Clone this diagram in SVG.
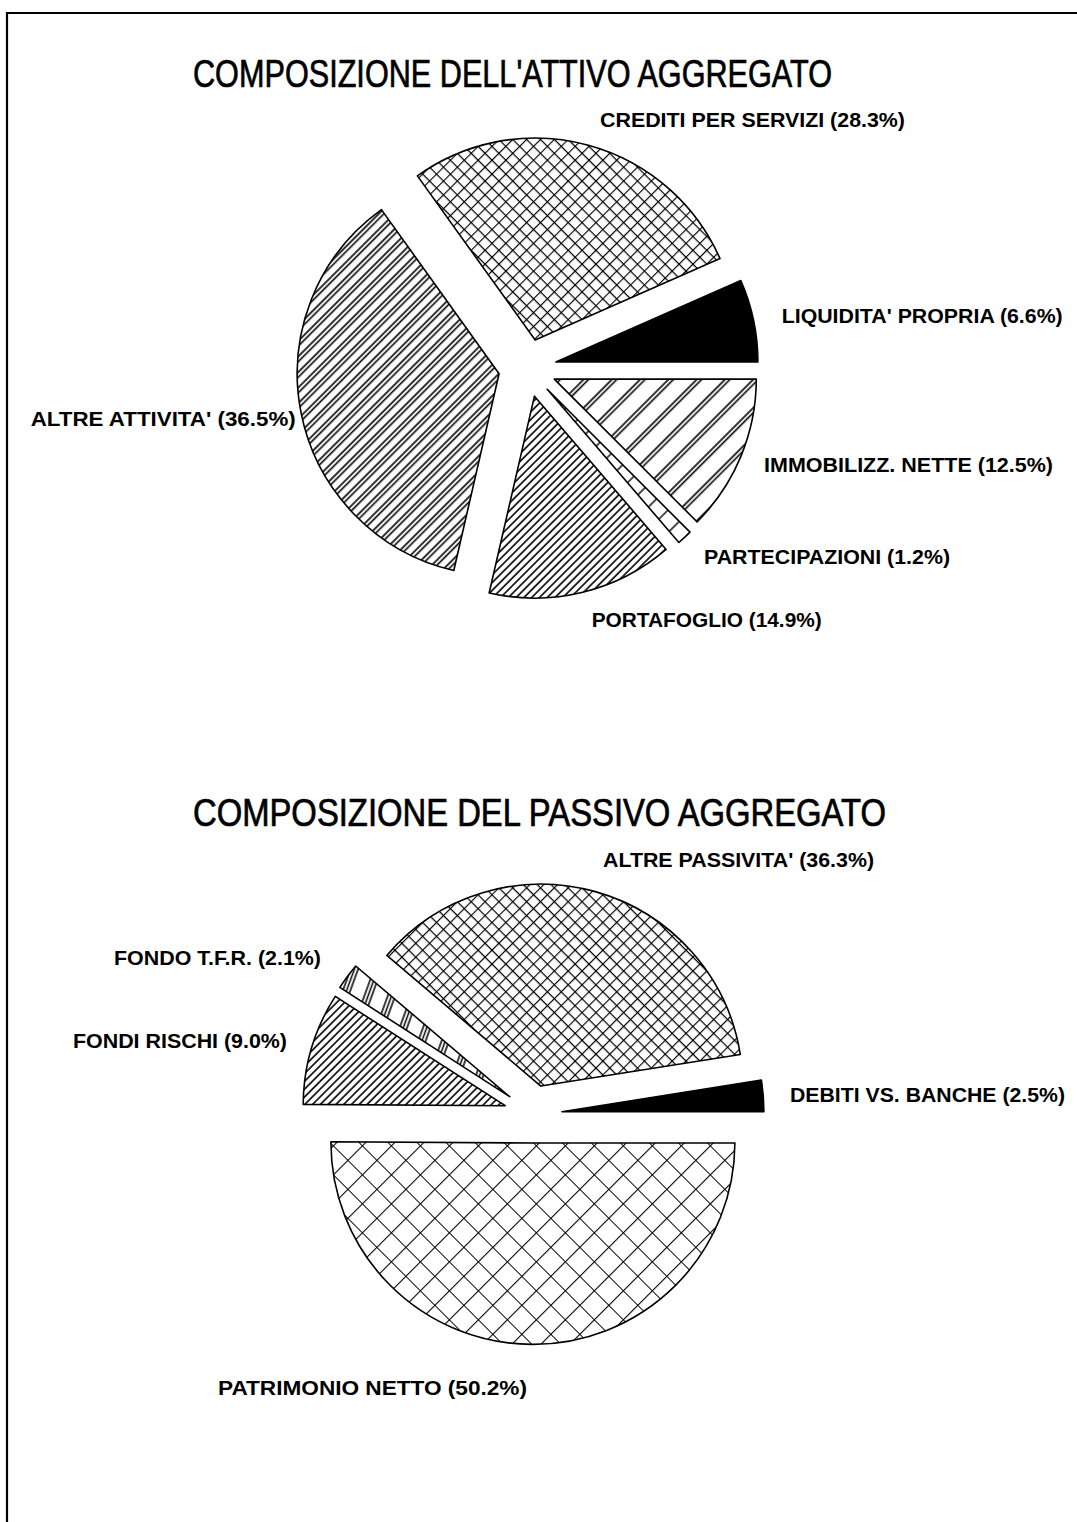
<svg xmlns="http://www.w3.org/2000/svg" width="1077" height="1522" viewBox="0 0 1077 1522">
<style>
.title{font-family:"Liberation Sans",Arial,sans-serif;font-size:38px;fill:#000;stroke:#000;stroke-width:0.7}
.lbl{font-family:"Liberation Sans",Arial,sans-serif;font-size:20px;font-weight:bold;fill:#000}
.sl{stroke:#000;stroke-width:1.6;stroke-linejoin:round}
.frame{stroke:#000;stroke-width:2.2;fill:none}
</style>
<defs>
<pattern id="crossFine" patternUnits="userSpaceOnUse" width="9.8" height="9.8" patternTransform="rotate(45)">
<rect width="9.8" height="9.8" fill="#fff"/>
<path d="M0,0H9.8M0,0V9.8" stroke="#000" stroke-width="2.3"/>
</pattern>
<pattern id="crossLarge" patternUnits="userSpaceOnUse" width="20.5" height="20.5" patternTransform="rotate(45)">
<rect width="20.5" height="20.5" fill="#fff"/>
<path d="M0,0H20.5M0,0V20.5" stroke="#000" stroke-width="2.1"/>
</pattern>
<pattern id="diagDense" patternUnits="userSpaceOnUse" width="5.5" height="10" patternTransform="rotate(45)">
<rect width="5.5" height="10" fill="#fff"/>
<path d="M1,0V10" stroke="#000" stroke-width="1.6"/>
</pattern>
<pattern id="diagPair" patternUnits="userSpaceOnUse" width="11" height="10" patternTransform="rotate(45)">
<rect width="11" height="10" fill="#fff"/>
<path d="M1,0V10M4.6,0V10" stroke="#000" stroke-width="1.6"/>
</pattern>
<pattern id="diagWide" patternUnits="userSpaceOnUse" width="20" height="10" patternTransform="rotate(45)">
<rect width="20" height="10" fill="#fff"/>
<path d="M1,0V10M4.5,0V10" stroke="#000" stroke-width="1.6"/>
</pattern>
<pattern id="diagSparse" patternUnits="userSpaceOnUse" width="16" height="10" patternTransform="rotate(45)">
<rect width="16" height="10" fill="#fff"/>
<path d="M1,0V10" stroke="#000" stroke-width="1.4"/>
</pattern>
<pattern id="tfr" patternUnits="userSpaceOnUse" width="22" height="10" patternTransform="rotate(20)">
<rect width="22" height="10" fill="#fff"/>
<path d="M1,0V10M4.5,0V10M8,0V10" stroke="#000" stroke-width="1.5"/>
</pattern>
</defs>
<rect width="1077" height="1522" fill="#fff"/>
<path class="frame" d="M7,1522V13H1077"/>

<g id="attivo">
<text class="title" x="193" y="87" textLength="639" lengthAdjust="spacingAndGlyphs">COMPOSIZIONE DELL'ATTIVO AGGREGATO</text>
<g id="liquidita">
<path class="sl" fill="#000" d="M555.9,362 L757.9,362 A202,202 0 0 0 740.8,280.6 Z"/>
<text class="lbl" x="781.7" y="322.7" textLength="281" lengthAdjust="spacingAndGlyphs">LIQUIDITA' PROPRIA (6.6%)</text>
</g>
<g id="crediti">
<path class="sl" fill="url(#crossFine)" d="M535.15,340.03 L720,258.6 A202,202 0 0 0 417.4,175.9 Z"/>
<text class="lbl" x="600" y="127" textLength="305" lengthAdjust="spacingAndGlyphs">CREDITI PER SERVIZI (28.3%)</text>
</g>
<g id="altre-attivita">
<path class="sl" fill="url(#diagPair)" d="M499.07,373.7 L381.4,209.6 A202,202 0 0 0 453.8,570.5 Z"/>
<text class="lbl" x="30.7" y="426" textLength="265" lengthAdjust="spacingAndGlyphs">ALTRE ATTIVITA' (36.5%)</text>
</g>
<g id="portafoglio">
<path class="sl" fill="url(#diagDense)" d="M534.45,396.16 L489.15,592.96 A202,202 0 0 0 666.1,549.4 Z"/>
<text class="lbl" x="591.7" y="626.7" textLength="230" lengthAdjust="spacingAndGlyphs">PORTAFOGLIO (14.9%)</text>
</g>
<g id="partecipazioni">
<path class="sl" fill="url(#diagSparse)" d="M547.2,389.3 L678.9,542.5 A202,202 0 0 0 690,532.1 Z"/>
<text class="lbl" x="704" y="564" textLength="246" lengthAdjust="spacingAndGlyphs">PARTECIPAZIONI (1.2%)</text>
</g>
<g id="immobilizz">
<path class="sl" fill="url(#diagWide)" d="M554.3,379.1 L697.1,521.9 A202,202 0 0 0 756.3,379.1 Z"/>
<text class="lbl" x="764" y="471.7" textLength="289" lengthAdjust="spacingAndGlyphs">IMMOBILIZZ. NETTE (12.5%)</text>
</g>
</g>

<g id="passivo">
<text class="title" x="193" y="826" textLength="693" lengthAdjust="spacingAndGlyphs">COMPOSIZIONE DEL PASSIVO AGGREGATO</text>
<g id="debiti">
<path class="sl" fill="#000" d="M561.9,1111.7 L763.9,1111.7 A202,202 0 0 0 761.4,1080.1 Z"/>
<text class="lbl" x="790" y="1101.7" textLength="275" lengthAdjust="spacingAndGlyphs">DEBITI VS. BANCHE (2.5%)</text>
</g>
<g id="altre-passivita">
<path class="sl" fill="url(#crossFine)" d="M540.83,1086.08 L740.3,1054.5 A202,202 0 0 0 386.8,955.4 Z"/>
<text class="lbl" x="603" y="867" textLength="271" lengthAdjust="spacingAndGlyphs">ALTRE PASSIVITA' (36.3%)</text>
</g>
<g id="fondo-tfr">
<path class="sl" fill="url(#tfr)" d="M509.7,1096.7 L355.7,966 A202,202 0 0 0 339.8,987.4 Z"/>
<text class="lbl" x="114" y="965" textLength="207" lengthAdjust="spacingAndGlyphs">FONDO T.F.R. (2.1%)</text>
</g>
<g id="fondi-rischi">
<path class="sl" fill="url(#diagDense)" d="M505.2,1105.7 L335.3,996.4 A202,202 0 0 0 303.2,1104.4 Z"/>
<text class="lbl" x="73" y="1048" textLength="214" lengthAdjust="spacingAndGlyphs">FONDI RISCHI (9.0%)</text>
</g>
<g id="patrimonio">
<path class="sl" fill="url(#crossLarge)" d="M532.9,1143 L330.9,1141.7 A202,202 0 1 0 734.9,1143 Z"/>
<text class="lbl" x="218" y="1395" textLength="309" lengthAdjust="spacingAndGlyphs">PATRIMONIO NETTO (50.2%)</text>
</g>
</g>
</svg>
